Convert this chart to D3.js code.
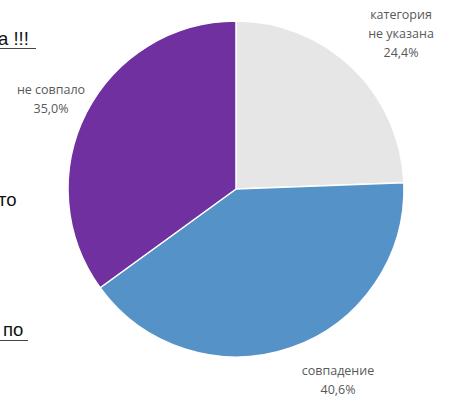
<!DOCTYPE html>
<html>
<head>
<meta charset="utf-8">
<script src="https://cdn.jsdelivr.net/npm/d3@7"></script>
<style>
  body { margin: 0; background: #fff; }
  svg { display: block; }
</style>
</head>
<body>
<svg id="chart"></svg>
<script>
const categories = ["категория не указана", "совпадение", "не совпало"];
const labelLines = [["категория", "не указана"], ["совпадение"], ["не совпало"]];
const values = [24.4, 40.6, 35.0];
const percentLabels = ["24,4%", "40,6%", "35,0%"];
const colors = ["#e7e6e6", "#5592c7", "#7030a0"];
// label anchor points (centre of first line) in px, per slice
const labelPos = [[401, 14], [338, 370], [51, 89]];

const width = 452;
const height = 397;
const cx = 236, cy = 189, radius = 168;

const svg = d3.select("#chart")
  .attr("width", width)
  .attr("height", height);

// cut-off slide text behind the chart
const bg = svg.append("g")
  .attr("font-family", "'Liberation Sans', Arial, sans-serif")
  .attr("font-weight", "normal")
  .attr("font-size", 18.5)
  .attr("fill", "#111");
bg.append("text").attr("x", -2).attr("y", 45).text("а !!!");
bg.append("line").attr("x1", 0).attr("x2", 36).attr("y1", 48.5).attr("y2", 48.5)
  .attr("stroke", "#444").attr("stroke-width", 1);
bg.append("text").attr("x", -2).attr("y", 206).text("то");
bg.append("text").attr("x", 3).attr("y", 336).text("по");
bg.append("line").attr("x1", 0).attr("x2", 28).attr("y1", 340.5).attr("y2", 340.5)
  .attr("stroke", "#444").attr("stroke-width", 1);

const pie = d3.pie().sort(null).value(d => d);
const arc = d3.arc().innerRadius(0).outerRadius(radius);

const g = svg.append("g").attr("transform", `translate(${cx},${cy})`);

g.selectAll("path")
  .data(pie(values))
  .join("path")
  .attr("d", arc)
  .attr("fill", (d, i) => colors[i])
  .attr("stroke", "#fff")
  .attr("stroke-width", 1.5)
  .attr("stroke-linejoin", "round");

// data labels
const labels = svg.append("g")
  .attr("font-family", "'Open Sans', 'Noto Sans', sans-serif")
  .attr("font-size", 12.5)
  .attr("fill", "#595959")
  .attr("text-anchor", "middle");

categories.forEach((c, i) => {
  const lines = labelLines[i].concat([percentLabels[i]]);
  const lh = 19;
  const [x, y] = labelPos[i];
  const t = labels.append("text").attr("x", x).attr("y", y + 4.5);
  lines.forEach((l, j) => {
    t.append("tspan").attr("x", x).attr("dy", j === 0 ? 0 : lh).text(l);
  });
});
</script>
</body>
</html>
